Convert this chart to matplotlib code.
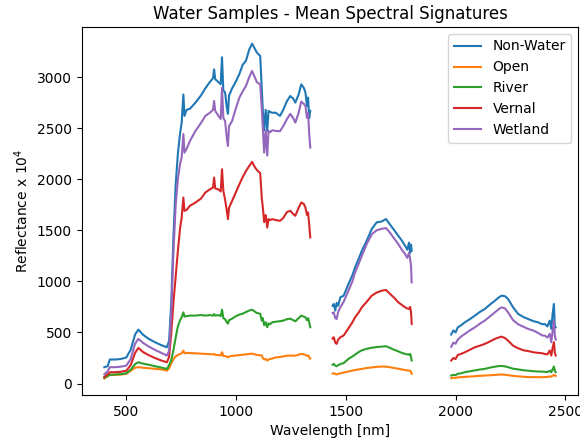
import numpy as np
import matplotlib
matplotlib.use("Agg")
import matplotlib.pyplot as plt

# wavelength bands [nm], three windows (water absorption gaps between them)
wl_vnir = [400, 415, 425, 450, 475, 500, 520, 540, 555, 575, 600, 630, 660, 685, 695,
           705, 715, 725, 735, 745, 752, 760, 765, 775, 790, 815, 840, 860, 880, 895,
           900, 905, 920, 930, 936, 942, 950, 958, 963, 968, 982, 1000, 1015, 1030,
           1045, 1060, 1073, 1085, 1095, 1110, 1117, 1122, 1128, 1135, 1142, 1148,
           1155, 1165, 1180, 1200, 1215, 1232, 1247, 1260, 1270, 1285, 1297, 1308,
           1316, 1323, 1328, 1333, 1338]
wl_swir1 = [1440, 1445, 1452, 1458, 1465, 1475, 1490, 1512, 1530, 1542, 1560, 1573,
            1595, 1618, 1640, 1664, 1683, 1700, 1720, 1739, 1755, 1770, 1780, 1788,
            1793, 1797, 1800]
wl_swir2 = [1980, 1990, 2000, 2010, 2025, 2042, 2065, 2088, 2110, 2133, 2155, 2179,
            2195, 2209, 2225, 2239, 2262, 2285, 2310, 2330, 2355, 2376, 2395, 2406,
            2418, 2429, 2436, 2442, 2448, 2452, 2456]

nonwater_vnir = [160, 170, 235, 235, 240, 255, 330, 480, 528, 480, 440, 405, 375, 355, 420,
                 800, 1450, 1950, 2250, 2450, 2550, 2830, 2620, 2680, 2690, 2750, 2820, 2890,
                 2950, 2990, 3075, 2980, 2950, 2930, 3195, 2870, 2850, 2700, 2640, 2820, 2890,
                 2960, 3030, 3120, 3160, 3270, 3327, 3280, 3240, 3206, 2900, 2669, 2480, 2680,
                 2470, 2669, 2660, 2650, 2652, 2620, 2680, 2766, 2815, 2790, 2750, 2830, 2929,
                 2897, 2850, 2717, 2800, 2600, 2669]
nonwater_swir1 = [760, 779, 714, 790, 760, 844, 860, 974, 1060, 1137, 1230, 1300, 1398, 1512,
                  1577, 1587, 1610, 1560, 1500, 1447, 1400, 1349, 1310, 1380, 1280, 1360, 1300]
nonwater_swir2 = [480, 520, 500, 550, 570, 599, 630, 665, 700, 730, 770, 811, 840, 860, 855,
                  828, 746, 681, 650, 632, 610, 599, 580, 583, 560, 616, 534, 680, 779, 560, 550]

open_vnir = [50, 70, 85, 85, 88, 95, 125, 155, 160, 155, 150, 145, 138, 127, 150,
             200, 240, 265, 280, 290, 296, 322, 295, 300, 298, 296, 292, 290, 288, 285,
             290, 280, 278, 275, 306, 270, 268, 262, 257, 265, 270, 275, 278, 282, 285,
             290, 292, 286, 280, 276, 274, 250, 235, 240, 225, 235, 240, 245, 255, 260,
             265, 272, 274, 272, 274, 282, 290, 285, 280, 270, 275, 260, 244]
open_swir1 = [98, 101, 92, 88, 95, 100, 108, 118, 126, 132, 138, 143, 152, 158, 163, 166,
              165, 160, 152, 145, 138, 133, 128, 127, 125, 115, 95]
open_swir2 = [52, 56, 55, 60, 62, 64, 68, 72, 75, 78, 81, 85, 87, 88, 86, 82, 75, 70, 66,
              63, 62, 62, 62, 63, 64, 70, 66, 75, 85, 78, 75]

river_vnir = [55, 75, 85, 88, 92, 100, 135, 190, 208, 195, 185, 170, 155, 143, 180,
              230, 330, 450, 560, 620, 648, 697, 655, 660, 665, 665, 670, 665, 670, 665,
              680, 665, 670, 660, 723, 640, 630, 600, 586, 620, 635, 660, 675, 684, 700,
              715, 723, 705, 690, 684, 616, 640, 570, 600, 551, 590, 580, 600, 605, 610,
              616, 630, 635, 620, 609, 640, 665, 655, 648, 620, 640, 600, 551]
river_swir1 = [185, 192, 175, 169, 180, 190, 200, 241, 265, 283, 310, 325, 340, 350, 357,
               362, 365, 350, 330, 315, 300, 290, 285, 283, 290, 260, 225]
river_swir2 = [78, 85, 82, 95, 100, 111, 120, 130, 137, 143, 155, 165, 170, 172, 168, 160,
               145, 138, 130, 126, 120, 118, 116, 115, 112, 125, 110, 140, 166, 125, 111]

vernal_vnir = [65, 90, 110, 111, 115, 125, 180, 300, 349, 310, 280, 250, 225, 208, 260,
               500, 800, 1050, 1300, 1520, 1620, 1821, 1690, 1700, 1740, 1772, 1810, 1870,
               1900, 1919, 2017, 1910, 1900, 1880, 2098, 1886, 1800, 1691, 1610, 1720, 1789,
               1880, 1950, 2020, 2080, 2130, 2170, 2120, 2090, 2060, 1821, 1723, 1580, 1650,
               1528, 1610, 1600, 1610, 1600, 1593, 1620, 1680, 1691, 1660, 1642, 1720, 1772,
               1760, 1723, 1650, 1675, 1560, 1430]
vernal_swir1 = [440, 453, 400, 388, 430, 453, 470, 540, 600, 648, 700, 746, 800, 860, 890,
                909, 916, 880, 840, 795, 770, 746, 735, 730, 750, 700, 583]
vernal_swir2 = [225, 250, 240, 280, 290, 306, 330, 355, 370, 388, 410, 437, 450, 459, 445,
                420, 370, 345, 325, 318, 306, 300, 296, 290, 285, 323, 274, 350, 404, 300, 274]

wetland_vnir = [90, 120, 160, 160, 165, 175, 240, 390, 437, 400, 365, 330, 300, 274, 320,
                700, 1300, 1750, 2000, 2150, 2212, 2443, 2260, 2300, 2375, 2473, 2550, 2620,
                2650, 2680, 2766, 2669, 2620, 2590, 2897, 2600, 2571, 2400, 2326, 2520, 2571,
                2700, 2799, 2860, 2913, 3000, 3060, 3000, 2950, 2929, 2700, 2505, 2260, 2480,
                2232, 2473, 2460, 2480, 2473, 2470, 2520, 2590, 2640, 2600, 2554, 2650, 2760,
                2740, 2717, 2600, 2650, 2450, 2310]
wetland_swir1 = [690, 697, 640, 632, 700, 746, 800, 909, 1000, 1088, 1180, 1251, 1365, 1460,
                 1500, 1515, 1522, 1480, 1420, 1365, 1310, 1268, 1230, 1280, 1219, 1150, 990]
wetland_swir2 = [360, 400, 390, 430, 460, 486, 520, 550, 585, 616, 655, 697, 725, 746, 735,
                 697, 620, 580, 555, 535, 518, 495, 470, 469, 450, 486, 404, 520, 616, 470, 430]

classes = ["Non-Water", "Open", "River", "Vernal", "Wetland"]


def join(a, b, c):
    # NaN between windows so the line breaks over the absorption bands
    return np.array(a + [np.nan] + b + [np.nan] + c, dtype=float)


wavelength = join(wl_vnir, wl_swir1, wl_swir2)
signatures = {
    "Non-Water": join(nonwater_vnir, nonwater_swir1, nonwater_swir2),
    "Open": join(open_vnir, open_swir1, open_swir2),
    "River": join(river_vnir, river_swir1, river_swir2),
    "Vernal": join(vernal_vnir, vernal_swir1, vernal_swir2),
    "Wetland": join(wetland_vnir, wetland_swir1, wetland_swir2),
}

fig = plt.figure(figsize=(5.8, 4.42), dpi=100)
ax = fig.add_axes([0.141, 0.106, 0.856, 0.833])
for name in classes:
    ax.plot(wavelength, signatures[name], label=name)

ax.set_title("Water Samples - Mean Spectral Signatures")
ax.set_xlabel("Wavelength [nm]")
ax.set_ylabel("Reflectance x $10^4$")
ax.legend(loc="upper right")

fig.savefig("out.png", dpi=100)
